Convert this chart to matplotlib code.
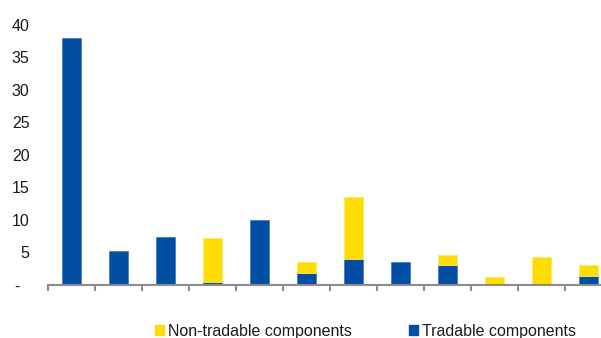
import matplotlib
matplotlib.use("Agg")
import matplotlib.pyplot as plt
import matplotlib.patches as mpatches
import numpy as np

plt.rcParams["font.family"] = ["Liberation Sans", "DejaVu Sans"]

# values (12 unlabelled categories)
tradable = [38.0, 5.2, 7.3, 0.4, 10.0, 1.75, 3.9, 3.5, 3.0, 0.0, 0.0, 1.3]
non_tradable = [0.0, 0.0, 0.0, 6.8, 0.0, 1.65, 9.6, 0.0, 1.5, 1.2, 4.2, 1.7]
y_ticks = [0, 5, 10, 15, 20, 25, 30, 35, 40]
y_labels = ["-  ", "5", "10", "15", "20", "25", "30", "35", "40"]

BLUE = "#024ea2"
YELLOW = "#ffdd00"


def main():
    fig = plt.figure(figsize=(6.01, 3.38), dpi=100)
    # axes runs past the right edge, the last category is cropped like in the source
    ax = fig.add_axes([0.0794, 0.158, 0.9384, 0.7692])

    x = np.arange(len(tradable)) + 0.5
    # no outline on empty segments, otherwise a thin line shows on top of the bar
    blue_edges = ["#4a7cc0" if v > 0 else "none" for v in tradable]
    yellow_edges = ["#ffe95e" if v > 0 else "none" for v in non_tradable]
    ax.bar(x, tradable, width=0.4, color=BLUE, edgecolor=blue_edges, linewidth=0.6)
    ax.bar(x, non_tradable, width=0.4, bottom=tradable, color=YELLOW,
           edgecolor=yellow_edges, linewidth=0.6)

    ax.set_xlim(0, len(tradable))
    ax.set_ylim(0, 40)

    for side in ["top", "right", "left"]:
        ax.spines[side].set_visible(False)
    ax.spines["bottom"].set_color("#8c8c8c")
    ax.spines["bottom"].set_linewidth(1.5)
    ax.spines["bottom"].set_clip_on(False)

    ax.set_xticks(np.arange(len(tradable) + 1))
    ax.set_xticklabels([])
    ax.tick_params(axis="x", direction="out", length=4, width=1.5, color="#8c8c8c")

    ax.set_yticks(y_ticks)
    ax.set_yticklabels(y_labels)
    ax.tick_params(axis="y", length=0, pad=13, labelsize=11.5, labelcolor="#1a1a1a")

    handles = [
        mpatches.Patch(color=YELLOW, label="Non-tradable components"),
        mpatches.Patch(color=BLUE, label="Tradable components"),
    ]
    fig.legend(handles=handles, loc="center left", bbox_to_anchor=(0.258, 0.02),
               ncol=2, frameon=False, fontsize=11.5, handlelength=0.55,
               handleheight=0.55, handletextpad=0.25, columnspacing=3.6,
               labelcolor="#1a1a1a", borderpad=0, borderaxespad=0)

    fig.savefig("out.png", dpi=100)


if __name__ == "__main__":
    main()
